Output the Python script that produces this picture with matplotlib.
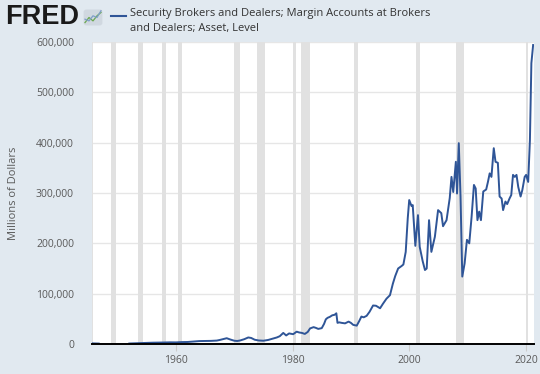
import numpy as np
import matplotlib
matplotlib.use("Agg")
import matplotlib.pyplot as plt
from matplotlib.ticker import FuncFormatter, FixedLocator
from matplotlib.patches import FancyBboxPatch

# ---------------- data (decimal year, millions of dollars) ----------------
years = [1945.75, 1946.0, 1946.75, 1947.0,
         1952.0, 1953.0, 1954.0, 1955.0, 1956.0, 1957.0, 1958.0, 1959.0,
         1960.0, 1961.0, 1962.0, 1963.0, 1964.0, 1965.0, 1966.0, 1967.0,
         1967.5, 1968.0, 1968.7, 1969.3, 1970.0, 1970.5, 1971.0, 1971.7,
         1972.4, 1972.9, 1973.5, 1974.2, 1975.0, 1975.8, 1976.7, 1977.3,
         1977.8, 1978.4, 1978.9, 1979.4, 1980.1, 1980.7, 1981.1, 1981.6,
         1982.1, 1982.6, 1983.0, 1983.6, 1984.0, 1984.4, 1985.0, 1985.4,
         1985.7, 1986.0, 1986.4, 1986.8, 1987.2, 1987.5, 1987.7, 1988.0,
         1988.4, 1989.0, 1989.6, 1990.0, 1990.4, 1991.0, 1991.4, 1991.8,
         1992.2, 1992.7, 1993.2, 1993.8, 1994.3, 1995.0, 1995.5, 1996.1,
         1996.7, 1997.2, 1997.6, 1998.1, 1998.7, 1999.0, 1999.4, 1999.75,
         2000.0, 2000.4, 2000.6, 2000.85, 2001.05, 2001.5, 2001.8, 2002.3,
         2002.7, 2003.0, 2003.4, 2003.8, 2004.4, 2004.95, 2005.5, 2005.8,
         2006.4, 2006.95, 2007.25, 2007.55, 2008.0, 2008.2, 2008.5, 2008.8,
         2009.1, 2009.5, 2009.9, 2010.3, 2010.7, 2011.1, 2011.4, 2011.7,
         2012.0, 2012.3, 2012.7, 2013.2, 2013.5, 2013.8, 2014.1, 2014.5,
         2014.8, 2015.2, 2015.5, 2015.85, 2016.1, 2016.5, 2016.8, 2017.2,
         2017.5, 2017.8, 2018.1, 2018.4, 2018.7, 2019.1, 2019.4, 2019.8,
         2020.05, 2020.4, 2020.7, 2020.95, 2021.25]
values = [1200, 1100, 900, np.nan,
          1000, 1300, 1800, 2300, 2600, 2700, 3000, 3300,
          3200, 3800, 4000, 5000, 5800, 6000, 6200, 6800,
          8000, 9500, 11500, 9000, 6500, 6000, 7000, 9500,
          13000, 12000, 8500, 7000, 6500, 8000, 11000, 13000,
          15500, 22000, 17000, 21000, 19500, 24500, 23000, 22000,
          20000, 24000, 31000, 33500, 32000, 30000, 31500, 40000,
          49000, 52000, 54000, 57000, 58000, 61000, 42000, 43000,
          42000, 41000, 44500, 42000, 38000, 36500, 45000, 54500,
          53000, 56000, 64000, 76500, 76000, 71000, 80000, 90000,
          97000, 120000, 135000, 150000, 155000, 158000, 183000, 250000,
          286000, 274000, 276000, 230000, 195000, 256000, 193000, 165000,
          147000, 150000, 246000, 183000, 213000, 266000, 260000, 234000,
          246000, 290000, 332000, 302000, 362000, 299000, 399000, 293000,
          134000, 160000, 207000, 200000, 253000, 316000, 309000, 246000,
          263000, 246000, 303000, 307000, 322000, 339000, 332000, 389000,
          362000, 360000, 293000, 289000, 266000, 283000, 278000, 289000,
          296000, 336000, 332000, 336000, 312000, 293000, 306000, 332000,
          336000, 322000, 405000, 558000, 594000]

recessions = [(1945.1, 1945.8), (1948.9, 1949.8), (1953.5, 1954.4),
              (1957.6, 1958.3), (1960.3, 1961.1), (1969.9, 1970.9),
              (1973.85, 1975.2), (1980.0, 1980.5), (1981.5, 1982.9),
              (1990.5, 1991.2), (2001.2, 2001.9), (2007.95, 2009.45),
              (2020.1, 2020.3)]

x_ticks = [1960, 1980, 2000, 2020]
y_ticks = [0, 100000, 200000, 300000, 400000, 500000, 600000]

series_label = ("Security Brokers and Dealers; Margin Accounts at Brokers\n"
                "and Dealers; Asset, Level")
y_label = "Millions of Dollars"

# ---------------- styling ----------------
BG = "#e1e9f0"
LINE = "#2f5597"
TXT = "#595959"
plt.rcParams['font.family'] = ['Open Sans', 'DejaVu Sans']

fig = plt.figure(figsize=(5.4, 3.74), dpi=100, facecolor=BG)
ax = fig.add_axes([92/540, 30/374, (534-92)/540, (344-42)/374])
ax.set_facecolor("white")

for s, e in recessions:
    ax.axvspan(s, e, color="#e1e1e1", lw=0, zorder=1)

ax.set_yticks(y_ticks)
ax.yaxis.grid(True, color="#e6e6e6", lw=1.0, zorder=0)
ax.set_axisbelow(True)

ax.plot(years, values, color=LINE, lw=1.4, zorder=3, solid_joinstyle="round")

ax.set_xlim(1945.6, 2021.4)
ax.set_ylim(0, 600000)
ax.xaxis.set_major_locator(FixedLocator(x_ticks))
ax.yaxis.set_major_formatter(FuncFormatter(lambda v, p: f"{int(v):,}"))

for side in ["top", "right", "left"]:
    ax.spines[side].set_visible(False)
ax.spines["bottom"].set_color("#000000")
ax.spines["bottom"].set_linewidth(1.4)
ax.spines["bottom"].set_zorder(4)

ax.tick_params(axis="y", length=0, pad=13, labelsize=7.5, labelcolor=TXT)
ax.tick_params(axis="x", length=5, width=0.8, color="#cccccc", pad=3,
               labelsize=7.5, labelcolor=TXT)
ax.set_ylabel(y_label, fontsize=8, color=TXT)
ax.yaxis.set_label_coords(-0.165, 0.5)

# ---------------- header: logo + legend ----------------
fig.text(5/540, 1 - 17/374, "FRED", fontsize=19.5, fontweight="bold",
         color="#1a1a1a", va="center", ha="left",
         family=["Liberation Sans", "DejaVu Sans"])
icon = fig.add_axes([83/540, 1 - 26/374, 20/540, 17/374])
icon.set_xlim(0, 10); icon.set_ylim(0, 10); icon.axis("off")
icon.add_patch(FancyBboxPatch((0.3, 0.3), 9.4, 9.4,
                              boxstyle="round,pad=0,rounding_size=1.5",
                              fc="#d0d8e0", ec="none"))
icon.plot([1, 3, 5, 7, 9], [2, 5, 3, 6, 8], color="#6aa84f", lw=0.9)
icon.plot([1, 3, 5, 7, 9], [4, 3, 6, 5, 9], color="#7f9fc8", lw=0.9)

fig.add_artist(plt.Line2D([111/540, 126/540], [1 - 16/374, 1 - 16/374],
                          color=LINE, lw=1.5, transform=fig.transFigure))
fig.text(130/540, 1 - 8/374, series_label, fontsize=8, color="#333333",
         va="top", ha="left", linespacing=1.45)

fig.savefig("out.png", dpi=100, facecolor=BG)
